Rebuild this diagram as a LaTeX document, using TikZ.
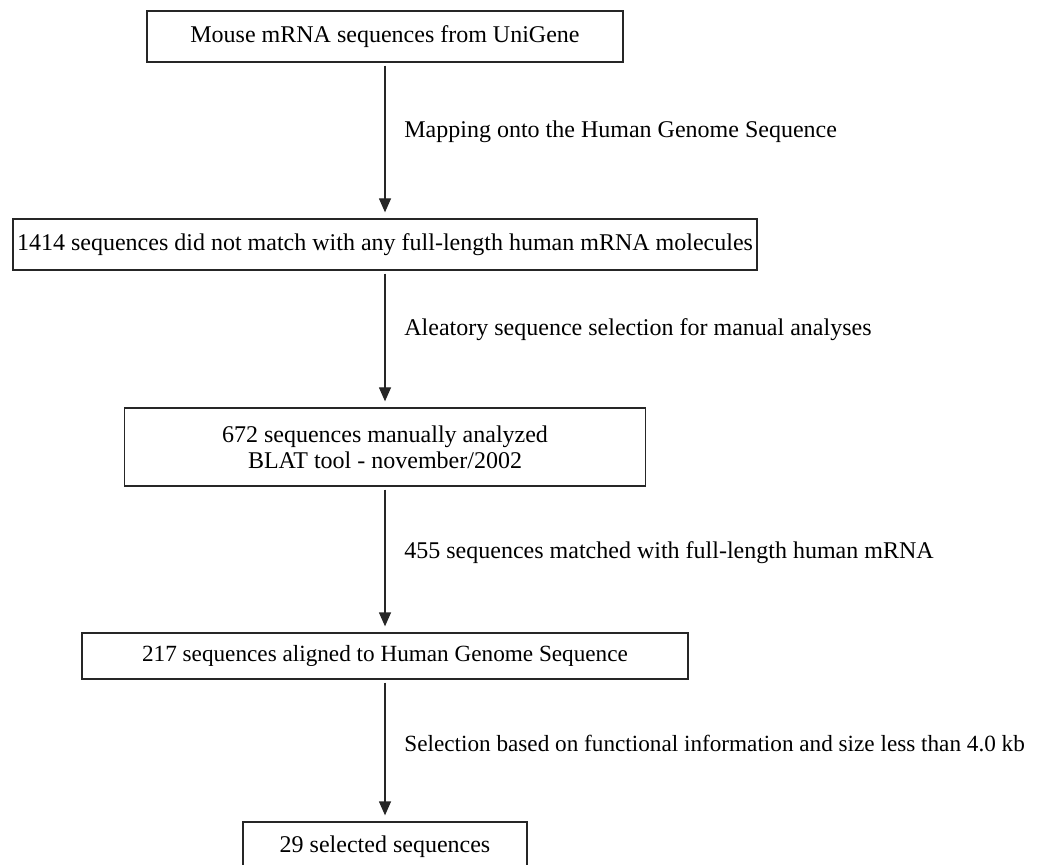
\documentclass[tikz,border=0pt]{standalone}
\usepackage{fontspec}
\setmainfont{Liberation Serif}
\usetikzlibrary{arrows.meta}

\begin{document}
\begin{tikzpicture}[x=0.5pt,y=-0.5pt,
  stage/.style={draw=black!85, line width=0.65pt, inner sep=0pt, align=center,
                font=\fontsize{12}{13}\selectfont},
  flow/.style={draw=black!85, line width=0.65pt, -{Triangle[width=6pt,length=7pt]},
               shorten <=1.5pt, shorten >=3pt},
  note/.style={anchor=west, inner sep=0pt, font=\fontsize{12}{13}\selectfont},
  tight/.style={font=\fontsize{11.6}{13}\selectfont}]
\useasboundingbox (0,0) rectangle (1042,865);
% stages:
\node[stage, minimum width=238pt, minimum height=25.5pt] (unigene) at (385,36.5)
  {Mouse mRNA sequences from UniGene};
\node[stage, minimum width=372pt, minimum height=25.5pt] (nomatch) at (385,244.5)
  {1414 sequences did not match with any full-length human mRNA molecules};
\node[stage, minimum width=260.5pt, minimum height=39pt] (manual) at (385,447)
  {672 sequences manually analyzed\\BLAT tool - november/2002};
\node[stage, tight, minimum width=303pt, minimum height=23pt] (aligned) at (385,656)
  {217 sequences aligned to Human Genome Sequence};
\node[stage, minimum width=142pt, minimum height=25pt] (selected) at (385,847)
  {29 selected sequences};
% connectors:
\draw[flow] (unigene) -- (nomatch);
\draw[flow] (nomatch) -- (manual);
\draw[flow] (manual) -- (aligned);
\draw[flow] (aligned) -- (selected);
% labels:
\node[note] (mapping) at (404,132) {Mapping onto the Human Genome Sequence};
\node[note] (aleatory) at (404,330) {Aleatory sequence selection for manual analyses};
\node[note] (matched) at (404,553) {455 sequences matched with full-length human mRNA};
\node[note, tight] (criteria) at (404,743) {Selection based on functional information and size less than 4.0 kb};
\end{tikzpicture}
\end{document}
